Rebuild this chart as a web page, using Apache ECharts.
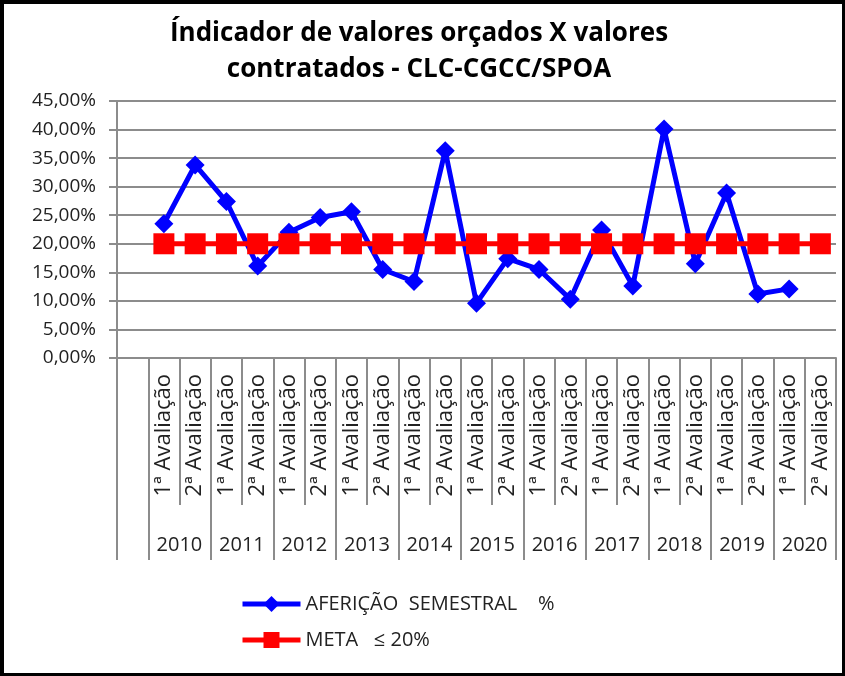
<!DOCTYPE html>
<html>
<head>
<meta charset="utf-8">
<script src="https://cdn.jsdelivr.net/npm/echarts@6/dist/echarts.min.js"></script>
<style>
  html, body { margin: 0; padding: 0; background: #fff; }
  #frame { position: absolute; left: 0; top: 0; width: 845px; height: 676px; box-sizing: border-box;
           border: 4px solid #000; border-right-width: 3px; border-bottom-width: 3px; }
  #main { position: absolute; left: 0; top: 0; width: 845px; height: 676px; }
</style>
</head>
<body>
<div id="main"></div>
<div id="frame"></div>
<script>
// categorias (a primeira fica vazia, como no original)
var categorias = ['', '1ª Avaliação', '2ª Avaliação', '1ª Avaliação', '2ª Avaliação', '1ª Avaliação', '2ª Avaliação',
  '1ª Avaliação', '2ª Avaliação', '1ª Avaliação', '2ª Avaliação', '1ª Avaliação', '2ª Avaliação',
  '1ª Avaliação', '2ª Avaliação', '1ª Avaliação', '2ª Avaliação', '1ª Avaliação', '2ª Avaliação',
  '1ª Avaliação', '2ª Avaliação', '1ª Avaliação', '2ª Avaliação'];
var anos = ['', '2010', '', '2011', '', '2012', '', '2013', '', '2014', '', '2015', '',
  '2016', '', '2017', '', '2018', '', '2019', '', '2020', ''];
// valores em %
var afericao = [null, 23.5, 33.8, 27.4, 16.1, 22.0, 24.6, 25.6, 15.5, 13.4, 36.3, 9.6,
  17.4, 15.5, 10.3, 22.4, 12.6, 40.1, 16.5, 28.9, 11.2, 12.1, null];
var meta = [null, 20, 20, 20, 20, 20, 20, 20, 20, 20, 20, 20, 20, 20, 20, 20, 20, 20, 20, 20, 20, 20, 20];

var fonte = '"Open Sans", sans-serif';
var cinza = '#8c8c8c';

var chart = echarts.init(document.getElementById('main'));
chart.setOption({
  animation: false,
  title: {
    text: 'Índicador de valores orçados X valores\ncontratados - CLC-CGCC/SPOA',
    left: 414, top: 11, textAlign: 'center',
    textStyle: { fontFamily: fonte, fontSize: 26, fontWeight: 'bold', color: '#000', lineHeight: 36 }
  },
  legend: {
    orient: 'vertical', left: 235, top: 589, itemGap: 16,
    itemWidth: 58, itemHeight: 20,
    textStyle: { fontFamily: fonte, fontSize: 20, color: '#222' },
    data: [
      { name: 'AFERIÇÃO  SEMESTRAL    %', lineStyle: { width: 5 } },
      { name: 'META   ≤ 20%', lineStyle: { width: 5 } }
    ]
  },
  grid: { left: 117, right: 9, top: 101, bottom: 318 },
  xAxis: [
    {
      type: 'category', data: categorias, position: 'bottom',
      axisLine: { lineStyle: { color: cinza, width: 2 } },
      axisTick: { show: true, interval: 0, length: 147, lineStyle: { color: cinza, width: 2 } },
      axisLabel: { interval: 0, rotate: 90, margin: 16, fontFamily: fonte, fontSize: 22, color: '#222' }
    },
    {
      type: 'category', data: anos, position: 'bottom',
      axisLine: { show: false },
      axisTick: { show: true, length: 202, lineStyle: { color: cinza, width: 2 },
        interval: function (i) { return i === 0 || i % 2 === 1; } },
      axisLabel: {
        interval: 0, margin: 177,
        formatter: function (v) { return v ? '{a|' + v + '}' : ''; },
        rich: { a: { fontFamily: fonte, fontSize: 20, color: '#222', padding: [0, 0, 0, 31] } }
      }
    }
  ],
  yAxis: {
    type: 'value', min: 0, max: 45, interval: 5,
    axisLine: { show: true, lineStyle: { color: cinza, width: 2 } },
    axisTick: { show: true, length: 8, lineStyle: { color: cinza, width: 2 } },
    axisLabel: { margin: 21, fontFamily: fonte, fontSize: 19, color: '#222',
      formatter: function (v) { return v.toFixed(2).replace('.', ',') + '%'; } },
    splitLine: { lineStyle: { color: cinza, width: 2 } }
  },
  series: [
    {
      name: 'AFERIÇÃO  SEMESTRAL    %', type: 'line', data: afericao,
      symbol: 'diamond', symbolSize: 19, connectNulls: false,
      lineStyle: { color: '#0000ff', width: 5 },
      itemStyle: { color: '#0000ff' }
    },
    {
      name: 'META   ≤ 20%', type: 'line', data: meta,
      symbol: 'rect', symbolSize: 21,
      lineStyle: { color: '#ff0000', width: 5 },
      itemStyle: { color: '#ff0000' }
    }
  ]
});
</script>
</body>
</html>
